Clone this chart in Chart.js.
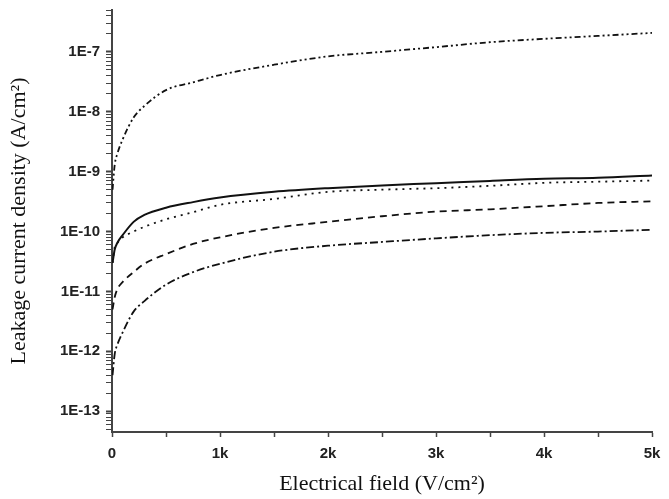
<!DOCTYPE html>
<html>
<head>
<meta charset="utf-8">
<title>Leakage current density vs electrical field</title>
<script src="https://cdn.jsdelivr.net/npm/chart.js@4/dist/chart.umd.min.js"></script>
<style>
  html, body { margin: 0; padding: 0; background: #fff; }
  #wrap { width: 669px; height: 499px; position: relative; }
</style>
</head>
<body>
<div id="wrap"><canvas id="leakChart" width="669" height="499"></canvas></div>
<script>
// Electrical field sample points (V/cm2), shared by every curve
const field = [5, 25, 50, 100, 200, 300, 500, 750, 1000, 1500, 2000, 2500, 3000, 3500, 4000, 4500, 5000];

// Leakage current density (A/cm2), top curve to bottom
const curveDashDotDot = [5e-10, 1.3e-9, 2e-9, 3.5e-9, 8e-9, 1.25e-8, 2.3e-8, 3.1e-8, 4.1e-8, 6.1e-8, 8.4e-8, 1.0e-7, 1.2e-7, 1.45e-7, 1.65e-7, 1.85e-7, 2.07e-7];
const curveSolid = [3e-11, 5e-11, 6.5e-11, 8.8e-11, 1.45e-10, 1.9e-10, 2.5e-10, 3.1e-10, 3.7e-10, 4.6e-10, 5.3e-10, 5.9e-10, 6.4e-10, 7e-10, 7.6e-10, 7.9e-10, 8.6e-10];
const curveDotted = [3e-11, 5.5e-11, 6.5e-11, 8e-11, 1e-10, 1.2e-10, 1.6e-10, 2.1e-10, 2.8e-10, 3.5e-10, 4.6e-10, 5e-10, 5.3e-10, 5.8e-10, 6.5e-10, 6.8e-10, 7.1e-10];
const curveDashed = [5e-12, 8e-12, 1.1e-11, 1.45e-11, 2.1e-11, 2.9e-11, 4.2e-11, 6.2e-11, 8e-11, 1.15e-10, 1.45e-10, 1.8e-10, 2.15e-10, 2.35e-10, 2.65e-10, 3e-10, 3.2e-10];
const curveDashDot = [4e-13, 9e-13, 1.3e-12, 2.1e-12, 4.6e-12, 6.9e-12, 1.3e-11, 2.1e-11, 2.9e-11, 4.6e-11, 5.8e-11, 6.7e-11, 7.7e-11, 8.7e-11, 9.5e-11, 1e-10, 1.07e-10];

// Tick values
const yDecades = [-13, -12, -11, -10, -9, -8, -7];
const xMajorTicks = [0, 1000, 2000, 3000, 4000, 5000];

const axisFont = { family: "Liberation Sans, Arial, sans-serif", size: 15, weight: "bold" };
const titleFont = { family: "Liberation Serif, Times New Roman, serif", size: 22 };

function toPoints(ys) {
  return field.map((x, i) => ({ x, y: ys[i] }));
}

function lineSet(ys, dash, width) {
  return {
    data: toPoints(ys),
    borderColor: "#111",
    borderWidth: width || 1.8,
    borderDash: dash,
    pointRadius: 0,
    fill: false,
    cubicInterpolationMode: "monotone",
  };
}

// log ticks: every 1..9 x decade, only decades get a label
function buildYTicks() {
  const ticks = [];
  for (let e = -14; e <= -7; e += 1) {
    for (let m = 1; m <= 9; m += 1) {
      const v = m * Math.pow(10, e);
      if (v >= 4.5e-14 && v <= 5e-7) ticks.push({ value: v, major: m === 1 });
    }
  }
  return ticks;
}

const ctx = document.getElementById("leakChart").getContext("2d");
new Chart(ctx, {
  type: "line",
  data: {
    datasets: [
      lineSet(curveDashDotDot, [6, 3, 2, 3, 2, 3]),
      lineSet(curveSolid, [], 2),
      lineSet(curveDotted, [2, 5]),
      lineSet(curveDashed, [7, 5]),
      lineSet(curveDashDot, [8, 3, 2, 3]),
    ],
  },
  options: {
    responsive: false,
    animation: false,
    layout: { padding: { left: 0, right: 17, top: 10, bottom: 0 } },
    plugins: { legend: { display: false }, tooltip: { enabled: false } },
    scales: {
      x: {
        type: "linear",
        min: 0,
        max: 5000,
        afterBuildTicks: (scale) => {
          const t = [];
          for (let v = 0; v <= 5000; v += 500) t.push({ value: v });
          scale.ticks = t;
        },
        afterFit: (scale) => { scale.height = 67; },
        border: { display: true, color: "#444", width: 2 },
        grid: { drawOnChartArea: false, tickLength: 5, tickColor: "#444", tickWidth: 1.5 },
        ticks: {
          color: "#222",
          font: axisFont,
          padding: 8,
          maxRotation: 0,
          autoSkip: false,
          callback: (v) => {
            if (!xMajorTicks.includes(v)) return "";
            return v === 0 ? "0" : v / 1000 + "k";
          },
        },
        title: {
          display: true,
          text: "Electrical field (V/cm²)",
          color: "#111",
          font: titleFont,
          padding: { top: 4, bottom: 2 },
        },
      },
      y: {
        type: "logarithmic",
        min: 4.5e-14,
        max: 5e-7,
        afterBuildTicks: (scale) => { scale.ticks = buildYTicks(); },
        afterFit: (scale) => {
          scale.width = 112;
          scale.paddingTop = 0;
          scale.paddingBottom = 0;
        },
        border: { display: true, color: "#444", width: 2 },
        grid: {
          drawOnChartArea: false,
          tickLength: 6,
          tickColor: "#444",
          tickWidth: (c) => (c.tick && c.tick.major ? 2 : 1),
        },
        ticks: {
          color: "#222",
          font: axisFont,
          padding: 6,
          autoSkip: false,
          callback: (v) => {
            const e = Math.round(Math.log10(v));
            if (Math.abs(v - Math.pow(10, e)) > Math.pow(10, e) * 1e-6) return "";
            return yDecades.includes(e) ? "1E" + e : "";
          },
        },
        title: {
          display: true,
          text: "Leakage current density (A/cm²)",
          color: "#111",
          font: titleFont,
          padding: { top: 6, bottom: 0 },
        },
      },
    },
  },
});
</script>
</body>
</html>
